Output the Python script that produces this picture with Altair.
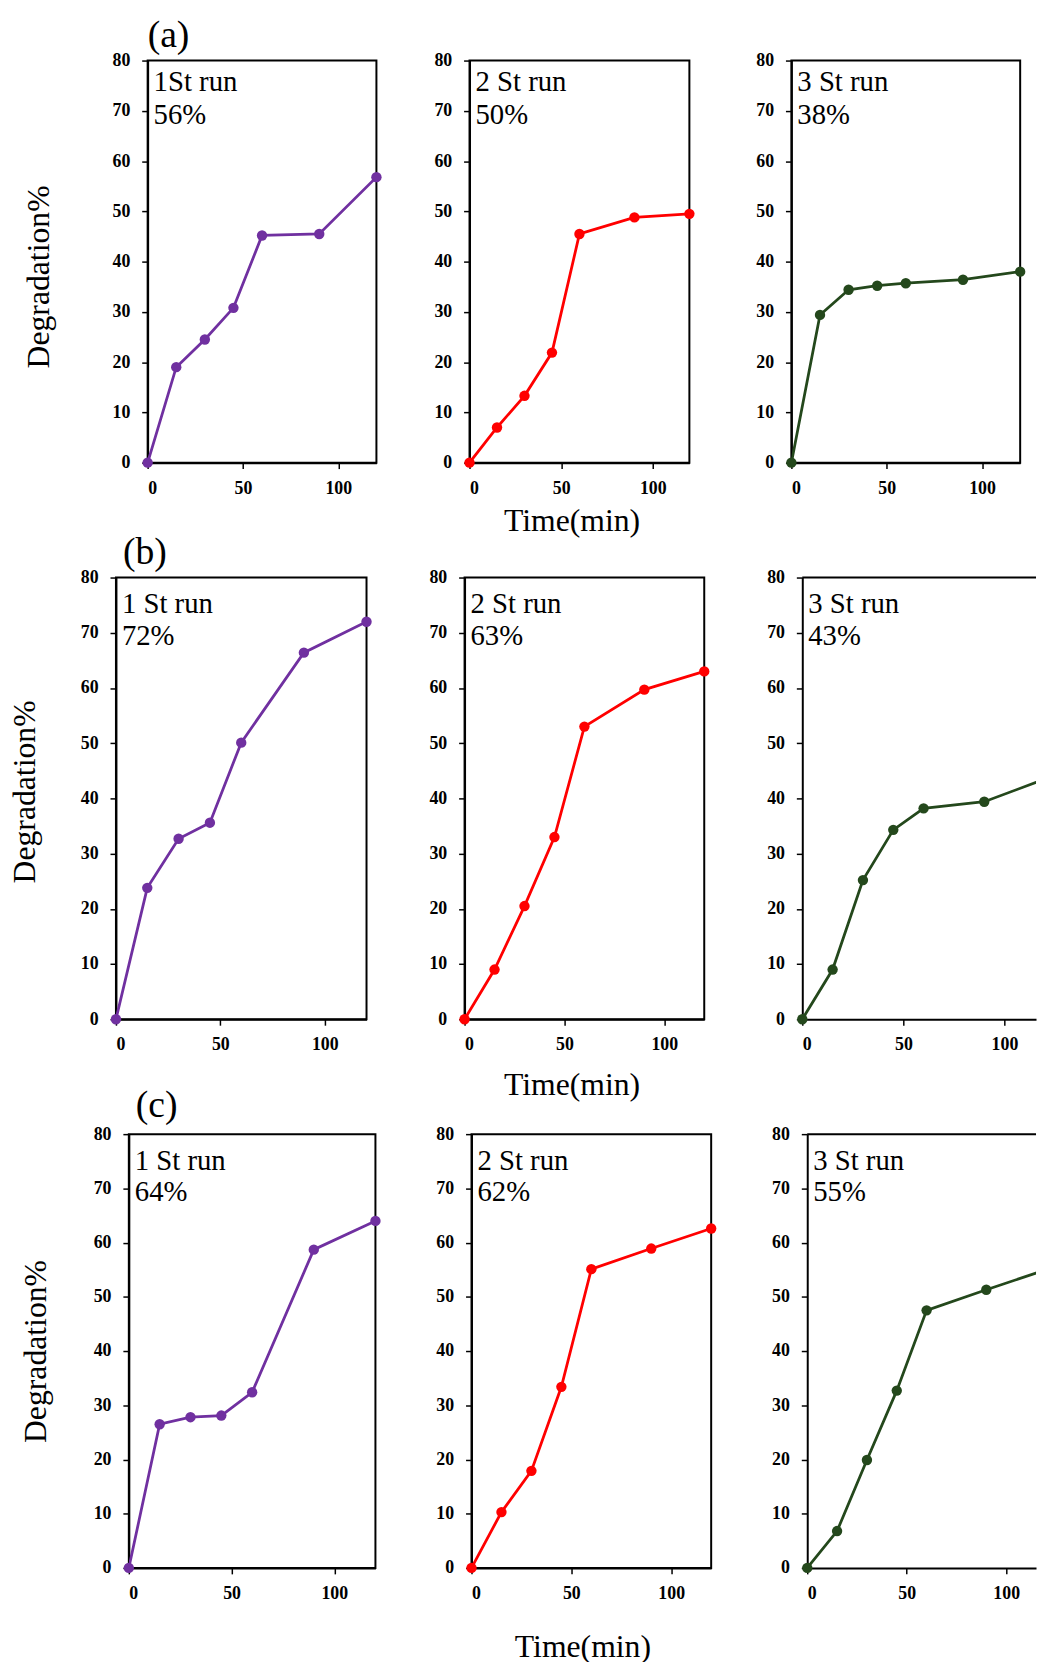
import altair as alt
import pandas as pd

TIME = [0, 15, 30, 45, 60, 90, 120]

# row (a)
A1 = [0, 19.0, 24.5, 30.8, 45.2, 45.5, 56.8]
A2 = [0, 7.0, 13.3, 21.9, 45.5, 48.8, 49.5]
A3 = [0, 29.4, 34.4, 35.2, 35.7, 36.4, 38.0]
# row (b)
B1 = [0, 23.8, 32.7, 35.6, 50.1, 66.4, 72.0]
B2 = [0, 9.0, 20.5, 33.0, 53.0, 59.7, 63.0]
B3 = [0, 9.0, 25.2, 34.3, 38.2, 39.4, 43.5]
# row (c)
C1 = [0, 26.5, 27.8, 28.1, 32.4, 58.7, 64.0]
C2 = [0, 10.3, 17.9, 33.4, 55.1, 58.9, 62.6]
C3 = [0, 6.8, 19.9, 32.7, 47.5, 51.3, 55.0]

RUN_LABELS = [["1St run", "2 St run", "3 St run"],
              ["1 St run", "2 St run", "3 St run"],
              ["1 St run", "2 St run", "3 St run"]]
PCT_LABELS = [["56%", "50%", "38%"],
              ["72%", "63%", "43%"],
              ["64%", "62%", "55%"]]
ROW_TAGS = ["(a)", "(b)", "(c)"]
SERIES = [[A1, A2, A3], [B1, B2, B3], [C1, C2, C3]]
COLORS = ["#7030A0", "#FF0000", "#24481C"]
Y_TICKS = [0, 10, 20, 30, 40, 50, 60, 70, 80]
X_TICKS = [0, 50, 100]
LABEL_Y = [[74.0, 67.4], [73.5, 67.8], [73.4, 67.6]]
TAG_Y = 80
Y_TOP = 80

SERIF = "Liberation Serif"

# layout (pixels); the right-hand panels of rows (b) and (c) run off the page edge
LEFT_GAP = [139, 107, 120]
WIDTHS = [[231, 222, 231], [253, 242, 236], [249, 242, 231]]
X_MAX = [[120, 120, 120], [120, 120, 115.6], [120, 120, 115.0]]
GAPS = [[94, 103], [99, 99], [97, 97]]
HEIGHTS = [406, 446, 438]
SPACER_H = [521, 561, 438]
ROW_SPACING = -60
YTITLE_X = [-93, -75, -77]
YTITLE_Y = [218, 216, 219]
XTITLE_X = [103, 108, 112]
XTITLE_Y = [69, 76, 89]
TAG_DX = [0, 7, 7]
TAG_DY = [-44, -44, -47]


def axis_common():
    return dict(grid=False, labelFont=SERIF, labelFontWeight="bold", labelFontSize=18,
                labelColor="black", tickSize=6, tickColor="black", tickWidth=1.5,
                domainColor="black", domainWidth=2)


def panel(r, c):
    vals = SERIES[r][c]
    color = COLORS[c]
    xmax = X_MAX[r][c]
    cut = xmax < 120
    df = pd.DataFrame({"t": TIME, "v": vals})
    if c == 0:
        yaxis = alt.Axis(values=Y_TICKS, title="Degradation%", titleFont=SERIF,
                         titleFontSize=32, titleFontWeight="normal", titleColor="black",
                         titleX=YTITLE_X[r], titleY=YTITLE_Y[r], labelPadding=12,
                         **axis_common())
    else:
        yaxis = alt.Axis(values=Y_TICKS, title=None, labelPadding=12, **axis_common())
    if c == 1:
        xaxis = alt.Axis(values=X_TICKS, title="Time(min)", titleFont=SERIF,
                         titleFontSize=32, titleFontWeight="normal", titleColor="black",
                         titleX=XTITLE_X[r], titleY=XTITLE_Y[r], titleBaseline="alphabetic",
                         labelPadding=11, **axis_common())
    else:
        xaxis = alt.Axis(values=X_TICKS, title=None, labelPadding=11, **axis_common())
    xscale = alt.Scale(domain=[0, xmax], nice=False)
    x = alt.X("t:Q", scale=xscale, axis=xaxis)
    y = alt.Y("v:Q", scale=alt.Scale(domain=[0, 80], nice=False), axis=yaxis)
    base = alt.Chart(df).encode(x=x, y=y)
    line = base.mark_line(color=color, strokeWidth=2.8, clip=True)
    pts = base.mark_circle(color=color, size=110, opacity=1).transform_filter(
        alt.datum.t <= xmax)
    tdf = pd.DataFrame({"t": [0, 0], "v": LABEL_Y[r],
                        "label": [RUN_LABELS[r][c], PCT_LABELS[r][c]]})
    txt = alt.Chart(tdf).mark_text(align="left", baseline="alphabetic", dx=6,
                                   font=SERIF, fontSize=29, color="black").encode(
        x="t:Q", y="v:Q", text="label:N")
    layers = [line, pts, txt]
    if c == 0:
        gdf = pd.DataFrame({"t": [0], "v": [TAG_Y], "label": [ROW_TAGS[r]]})
        tag = alt.Chart(gdf).mark_text(align="left", baseline="top",
                                       dx=TAG_DX[r], dy=TAG_DY[r], font=SERIF,
                                       fontSize=38, color="black").encode(
            x="t:Q", y="v:Q", text="label:N")
        layers.append(tag)
    props = dict(width=WIDTHS[r][c], height=HEIGHTS[r])
    if cut:
        # the panel is cut by the page edge on the right: keep only the top border
        bdf = pd.DataFrame({"t0": [0], "t1": [xmax], "v": [Y_TOP]})
        border = alt.Chart(bdf).mark_rule(color="black", strokeWidth=2).encode(
            x="t0:Q", x2="t1:Q", y="v:Q")
        layers.append(border)
        props["view"] = alt.ViewBackground(stroke="transparent")
    return alt.layer(*layers).properties(**props)


def spacer(w, h):
    df = pd.DataFrame({"t": [0], "v": [0]})
    return alt.Chart(df).mark_point(opacity=0).encode(
        x=alt.X("t:Q", axis=None), y=alt.Y("v:Q", axis=None)
    ).properties(width=w, height=h,
                 view=alt.ViewBackground(stroke="transparent"))


rows = []
for r in range(3):
    h = SPACER_H[r]
    cells = [spacer(LEFT_GAP[r], h), panel(r, 0), spacer(GAPS[r][0], h),
             panel(r, 1), spacer(GAPS[r][1], h), panel(r, 2)]
    rows.append(alt.hconcat(*cells, spacing=0, bounds="flush"))

chart = alt.vconcat(*rows, spacing=ROW_SPACING).properties(
    padding={"left": 0, "top": 0, "right": 0, "bottom": 0}
).configure_view(stroke="black", strokeWidth=2)

chart.save("out.html", embed_options={"renderer": "svg", "actions": False})
